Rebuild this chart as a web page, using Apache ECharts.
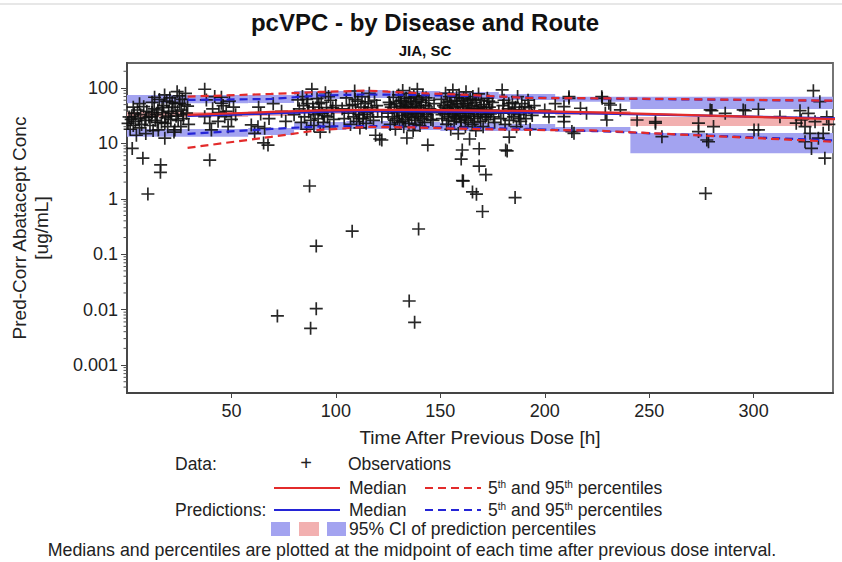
<!DOCTYPE html>
<html>
<head>
<meta charset="utf-8">
<title>pcVPC - by Disease and Route</title>
<script src="https://cdn.jsdelivr.net/npm/echarts@6/dist/echarts.min.js"></script>
<style>
  html, body { margin: 0; padding: 0; background: #fff; }
  #chart { width: 842px; height: 562px; }
</style>
</head>
<body>
<div id="chart"></div>
<script>
// time bins (h) - lines are drawn at the bin midpoints, CI bands span the bins
var binStart = [0, 58, 80, 105, 125, 150, 178, 205, 241];
var binEnd   = [58, 80, 105, 125, 150, 178, 205, 241, 450];
var binMid   = [29, 69, 92.5, 115, 137.5, 164, 191.5, 223, 345.5];

// observed percentiles (ug/mL)
var obsP95    = [69.7, 77.9, 84.7, 89.4, 81.2, 74.8, 66.0, 65.2, 58.5];
var obsMedian = [32.6, 36.9, 39.3, 40.1, 40.1, 39.3, 38.5, 36.1, 27.0];
var obsP5     = [8.3, 13.1, 17.5, 19.8, 19.4, 18.2, 17.5, 17.1, 10.4];

// predicted percentiles
var predP95    = [60.7, 63.3, 73.2, 76.3, 74.8, 71.7, 67.4, 64.6, 58.2];
var predMedian = [31.2, 34.7, 36.9, 38.5, 37.7, 36.9, 36.1, 34.7, 28.1];
var predP5     = [14.8, 18.2, 20.2, 20.6, 19.8, 19.0, 18.2, 16.7, 11.0];

// 95% CI of the prediction percentiles
var ciP95Lo = [53.0, 53.6, 63.3, 66.0, 64.6, 63.3, 60.7, 56.6, 41.8];
var ciP95Hi = [74.8, 74.8, 88.3, 92.0, 88.3, 84.7, 77.9, 69.7, 69.7];
var ciMedLo = [30.0, 31.2, 34.0, 35.4, 35.4, 34.7, 34.0, 32.6, 20.6];
var ciMedHi = [36.9, 37.7, 40.1, 40.9, 40.9, 40.1, 39.3, 38.5, 30.0];
var ciP5Lo  = [13.1, 14.2, 17.5, 18.2, 17.5, 16.7, 16.7, 16.1, 6.6];
var ciP5Hi  = [18.2, 19.0, 24.3, 25.4, 24.3, 23.3, 22.4, 19.8, 15.4];

// observations [time, pred-corrected conc]
var observations = [
  [0.5,23],[1,30],[1.5,18],[2,27],[2.2,30],[2.5,8.1],[3,21],[3.5,35],[4,25],[4.5,14],
  [5,40],[5.5,28],[6,19],[6.5,33],[7,22],[7.6,5.4],[8,46],[8.6,26],[9,15],[9.5,38],
  [10,1.22],[10.5,30],[11,21],[11.8,30.3],[12,55],[12.5,17],[13,42],[13.5,26],[14,33],[14.8,40],
  [15,17.5],[15.5,62],[16,3.0],[16.1,4.1],[16.5,24],[17,36],[17.5,48],[18,74.8],[18.1,23],[18.1,12.4],
  [18.5,29],[19,58],[19.5,20],[20,38],[20.5,66],[21,27],[21.3,34.9],[22,45],[22.5,16],[22.9,17.5],
  [23,52],[23.5,31],[24,85.8],[24.5,26],[25,72],[25.3,53],[25.8,20],[26,40],[26.5,62],[27,28],
  [28,80],[28.5,35],[29,47],[29.5,22],[3,45],[6,52],[9,29],[12,36],[14.5,24],[16.8,44],
  [19.8,31],[21.6,55],[24.2,38],[26.8,33],[27.5,50],[13.2,68],
  [37.2,94.7],[37.2,30.3],[38,60.7],[39.6,23],[39.6,5.0],[40.4,17.5],[41,42],[42,70],[43.6,25],[44,36],
  [45.2,53],[45.2,68],[46,48],[46.8,30.3],[47.5,38],[48.4,20],[49,58],[50,27],[51,45],[52,33],
  [59.5,21.5],[61.1,15.2],[62.7,20],[63,45],[64,34],[65.4,10.2],[65.9,18.7],[67.5,9.3],[68,28],[70,52],
  [72,0.0077],[74,38],[76,25],
  [80,33],[81.8,60.7],[82.5,42],[83.4,24],[84,70],[85,30],[86,18],[86.5,52],[87,37],[87.4,1.7],
  [87.9,0.0046],[88,26],[88.5,95],[89,45],[89.5,21],[90,33],[90.6,0.14],[90.6,0.0104],[91,64],[91.5,28],
  [92,40],[92.5,16],[93,55],[93.5,35],[94,24],[95,82],[95.5,44],[96,30],[97,20],[97.5,60],
  [98,38],[99,27],[100,48],[84.5,48],[86,62],[89.2,38],[91.8,52],[94.5,32],[96.5,70],[98.5,44],
  [103,42],[104,28],[105,66],[106,35],[107,22],[107.8,0.26],[108,50],[108.5,30],[109,88],[109.5,40],
  [110,25],[110.5,58],[111,33],[111.5,19],[112,45],[112.5,70],[113,28],[113.5,38],[114,52],[114.5,23],
  [115,36],[116,80],[116.5,30],[117,44],[118,26],[118.5,60],[119,14],[120,38],[121,12],[122,11.5],[122,30],
  [106.5,48],[109.2,62],[111.2,28],[113.2,33],[115.5,56],[117.5,38],[119.5,48],
  [125,35],[125.5,55],[126,22],[126.5,45],[127,30],[127.5,68],[128,40],[128.5,18],[129,52],[129.5,28],
  [130,75],[130.2,36],[130.5,24],[131,47],[131.3,60],[131.6,32],[132,90],[132.2,42],[132.5,20],[132.8,55],
  [133,38],[133.3,27],[133.6,65],[134,12.5],[134,44],[134.3,33],[134.6,50],[135,23],[135.1,0.0143],[135.3,80],
  [135.6,37],[136,58],[136.3,29],[136.6,46],[137,17],[137.3,70],[137.6,35],[137.7,0.0059],[138,52],[138.3,26],
  [138.6,40],[139,95],[139.3,31],[139.6,0.285],[139.8,62],[140,44],[140.3,21],[140.6,36],[141,55],[141.3,28],
  [141.6,72],[142,39],[142.5,24],[143,48],[143.5,33],[144,9.3],[144.5,60],[145,42],[145.5,27],[146,36],[147,52],
  [126,50],[128,26],[129.2,38],[130.8,58],[131.8,25],[133.2,46],[134.8,30],[135.8,66],[136.8,41],[137.8,22],
  [138.8,57],[139.5,34],[140.8,48],[142.2,30],[143.2,66],[144.2,40],[146.5,26],
  [150,40],[150.5,62],[151,28],[151.5,48],[152,35],[152.5,80],[153,22],[153.3,55],[153.6,42],[154,30],
  [154.3,70],[154.6,38],[155,18],[155.3,50],[155.6,33],[156,92],[156.3,45],[156.6,25],[157,60],[157.3,36],
  [157.6,28],[158,52],[158.3,40],[158.6,15],[159,75],[159.3,32],[159.6,47],[160,5.2],[160,24],[160.3,58],
  [160.5,7.6],[160.6,2.12],[160.8,38],[161,2.1],[161.2,65],[161.5,29],[161.8,44],[162,20],[162.3,85],[162.6,35],
  [163,52],[163.3,26],[163.6,40],[164,12],[164.3,62],[164.6,31],[165,48],[165.3,22],[165.4,1.33],[165.6,70],
  [166,37],[166.3,28],[166.6,55],[167,17],[167.3,1.21],[167.5,42],[168,33],[168.3,78],[168.6,8.0],[168.6,3.9],
  [169,46],[169.3,25],[169.6,60],[170,36],[170.2,0.59],[170.5,20],[171,50],[171.5,30],[171.8,2.72],[172,40],
  [172.5,65],[173,27],[173.5,45],[174,34],[175,55],[176,24],
  [150.8,33],[152.2,45],[153.8,26],[154.8,58],[155.8,40],[156.8,30],[157.8,68],[158.8,36],[159.8,27],[161,52],
  [162.2,30],[163.2,60],[164.2,36],[165.2,42],[166.2,24],[167.2,62],[168.2,39],[169.2,30],[170.8,44],[172.2,33],
  [173.2,58],[174.5,40],[175.5,30],
  [178,38],[179,28],[179.6,92],[180,48],[180.5,60],[181,22],[181.3,7.6],[182,7.3],[182.5,42],[183,13],
  [183,26],[184,35],[184.5,55],[185,30],[185.8,1.05],[186,45],[186.5,20],[187,70],[187.5,33],[188,40],
  [188.5,25],[189,52],[190,36],[191,28],[192,60],[192.5,44],[193,18],[194,32],[195,48],
  [180.2,35],[182.8,52],[185.5,40],[187.8,28],[190.5,46],[193.5,38],
  [200,40],[202,30],[205,52],[209.2,24.6],[209.2,30.3],[209.2,46],[211.6,69.7],[211.6,65],[213,16.3],[214,15.2],
  [217.1,43],[220,35],[227.3,69.7],[227.5,65],[229,35],[229.7,26.4],[230.7,53],[231.5,49.3],[236.2,40.1],
  [244.2,26.4],[253,23.1],[253,24.6],[256.1,13.2],[273.6,23.1],[273.6,16.3],[277,1.25],[277.6,11.5],[278.4,10.7],[279.2,40.1],
  [280,39],[280.8,20.1],[286.4,34.9],[295,40.1],[296,38.9],[300.2,17.5],[302.3,41.3],[302.3,17.5],[312.6,30.3],[320.4,23.1],
  [322.2,38.9],[322.8,26.4],[324.6,20.1],[324.6,10.7],[326.2,34.9],[327,15.2],[327.7,8.1],[328.6,89.4],[329.4,24.6],[331,12.4],
  [331.7,56.6],[333.3,15.2],[334.1,5.4],[335,30],[336,22]
];

var decadeTicks = [0.0001, 0.001, 0.01, 0.1, 1, 10, 100];

var chart = echarts.init(document.getElementById('chart'), null, { renderer: 'svg' });

var FONT = 'Liberation Sans, Arial, sans-serif';
var RED = '#e32b2b';
var BLUE = '#2424d6';
var BAND_BLUE = '#a3a3f0';
var BAND_PINK = '#f2b0b0';

function pairs(ys) {
  return binMid.map(function (x, i) { return [x, ys[i]]; });
}

// band rectangles, one per bin and CI
var bandData = [];
binStart.forEach(function (s, i) {
  bandData.push([s, binEnd[i], ciP95Lo[i], ciP95Hi[i], 0]);
  bandData.push([s, binEnd[i], ciMedLo[i], ciMedHi[i], 1]);
  bandData.push([s, binEnd[i], ciP5Lo[i], ciP5Hi[i], 0]);
});

// minor log ticks 2..9 in each decade
var minorTicks = [];
decadeTicks.forEach(function (d) {
  for (var k = 2; k <= 9; k++) {
    if (d * k > 0.000313 && d * k < 282) minorTicks.push([0, d * k]);
  }
});

function lineSeries(name, ys, color, dashed) {
  return {
    name: name,
    type: 'line',
    data: pairs(ys),
    symbol: 'none',
    clip: true,
    z: dashed ? 4 : 5,
    lineStyle: { color: color, width: 2.2, type: dashed ? [8, 5] : 'solid' },
    silent: true
  };
}

var txtSize = 17.5;
function txt(x, y, s, extra) {
  var o = { type: 'text', x: x, y: y, style: { text: s, font: txtSize + 'px ' + FONT, fill: '#222', textVerticalAlign: 'middle' } };
  if (extra) for (var k in extra) o.style[k] = extra[k];
  return o;
}
function seg(x1, x2, y, color, dashed) {
  return { type: 'line', shape: { x1: x1, y1: y, x2: x2, y2: y },
    style: { stroke: color, lineWidth: 2.2, lineDash: dashed ? [8, 5] : null } };
}
function pctText(x, y) {
  return { type: 'text', x: x, y: y, style: {
    text: '5{s|th} and 95{s|th} percentiles',
    font: txtSize + 'px ' + FONT, fill: '#222', textVerticalAlign: 'middle',
    rich: { s: { fontSize: 10, fontFamily: FONT, verticalAlign: 'top', fill: '#222' } }
  } };
}

var option = {
  backgroundColor: '#fff',
  animation: false,
  grid: { left: 127, right: 9, top: 63, bottom: 169, show: true, borderColor: '#666', borderWidth: 1.8 },
  xAxis: {
    type: 'value', min: 0, max: 338, interval: 50,
    name: 'Time After Previous Dose [h]', nameLocation: 'middle', nameGap: 35,
    nameTextStyle: { fontFamily: FONT, fontSize: 19, color: '#222' },
    axisLine: { show: true, lineStyle: { color: '#444', width: 1.8 } },
    axisTick: { show: true, length: 5, lineStyle: { color: '#444' } },
    axisLabel: { fontFamily: FONT, fontSize: 18, color: '#222', margin: 9, showMinLabel: false, showMaxLabel: false },
    splitLine: { show: false }
  },
  yAxis: {
    type: 'log', logBase: 10, min: 0.000313, max: 282,
    name: 'Pred-Corr Abatacept Conc\n[ug/mL]', nameLocation: 'middle', nameGap: 75,
    nameTextStyle: { fontFamily: FONT, fontSize: 19, color: '#222', lineHeight: 22 },
    axisLine: { show: true, lineStyle: { color: '#444', width: 1.8 } },
    axisTick: { show: true, length: 6, lineStyle: { color: '#444' } },
    axisLabel: {
      fontFamily: FONT, fontSize: 18, color: '#222', margin: 9,
      showMinLabel: false, showMaxLabel: false,
      formatter: function (v) { return String(+v.toPrecision(3)); }
    },
    splitLine: { show: false }
  },
  graphic: [
    { type: 'line', shape: { x1: 0, y1: 4, x2: 842, y2: 4 }, style: { stroke: '#cfcfcf', lineWidth: 1 } },
    txt(425, 22, 'pcVPC - by Disease and Route', { font: 'bold 24px ' + FONT, textAlign: 'center', fill: '#111' }),
    txt(425, 50, 'JIA, SC', { font: 'bold 15px ' + FONT, textAlign: 'center', fill: '#111' }),
    // legend
    txt(175, 464, 'Data:'),
    txt(306, 463, '+', { font: '20px ' + FONT, textAlign: 'center' }),
    txt(348, 464, 'Observations'),
    seg(274, 340, 488, RED, false),
    txt(349, 488, 'Median'),
    seg(425, 481, 488, RED, true),
    pctText(488, 488),
    txt(175, 510, 'Predictions:'),
    seg(274, 340, 510, BLUE, false),
    txt(349, 510, 'Median'),
    seg(425, 481, 510, BLUE, true),
    pctText(488, 510),
    { type: 'rect', shape: { x: 271, y: 522, width: 19, height: 14 }, style: { fill: BAND_BLUE } },
    { type: 'rect', shape: { x: 299, y: 522, width: 20, height: 14 }, style: { fill: BAND_PINK } },
    { type: 'rect', shape: { x: 327, y: 522, width: 19, height: 14 }, style: { fill: BAND_BLUE } },
    txt(349, 529, '95% CI of prediction percentiles'),
    txt(412, 550, 'Medians and percentiles are plotted at the midpoint of each time after previous dose interval.', { textAlign: 'center', font: '17.8px ' + FONT })
  ],
  series: [
    {
      name: 'CI bands',
      type: 'custom',
      data: bandData,
      z: 1,
      silent: true,
      renderItem: function (params, api) {
        var p1 = api.coord([api.value(0), api.value(3)]);
        var p2 = api.coord([api.value(1), api.value(2)]);
        var rect = echarts.graphic.clipRectByRect(
          { x: p1[0], y: p1[1], width: p2[0] - p1[0], height: p2[1] - p1[1] },
          { x: params.coordSys.x, y: params.coordSys.y, width: params.coordSys.width, height: params.coordSys.height }
        );
        if (!rect) return;
        return { type: 'rect', shape: rect, style: { fill: api.value(4) === 1 ? BAND_PINK : BAND_BLUE } };
      }
    },
    {
      name: 'minor ticks',
      type: 'custom',
      data: minorTicks,
      silent: true,
      z: 6,
      renderItem: function (params, api) {
        var p = api.coord([0, api.value(1)]);
        return { type: 'line', shape: { x1: p[0] - 3.5, y1: p[1], x2: p[0], y2: p[1] }, style: { stroke: '#555', lineWidth: 1 } };
      }
    },
    {
      name: 'Observations',
      type: 'scatter',
      data: observations,
      symbol: 'path://M4.35,0H5.65V4.35H10V5.65H5.65V10H4.35V5.65H0V4.35H4.35Z',
      symbolSize: 13,
      z: 3,
      itemStyle: { color: '#111', opacity: 0.9 },
      silent: true
    },
    lineSeries('Pred 95th', predP95, BLUE, true),
    lineSeries('Pred 5th', predP5, BLUE, true),
    lineSeries('Pred median', predMedian, BLUE, false),
    lineSeries('Obs 95th', obsP95, RED, true),
    lineSeries('Obs 5th', obsP5, RED, true),
    lineSeries('Obs median', obsMedian, RED, false)
  ]
};

chart.setOption(option);
</script>
</body>
</html>
